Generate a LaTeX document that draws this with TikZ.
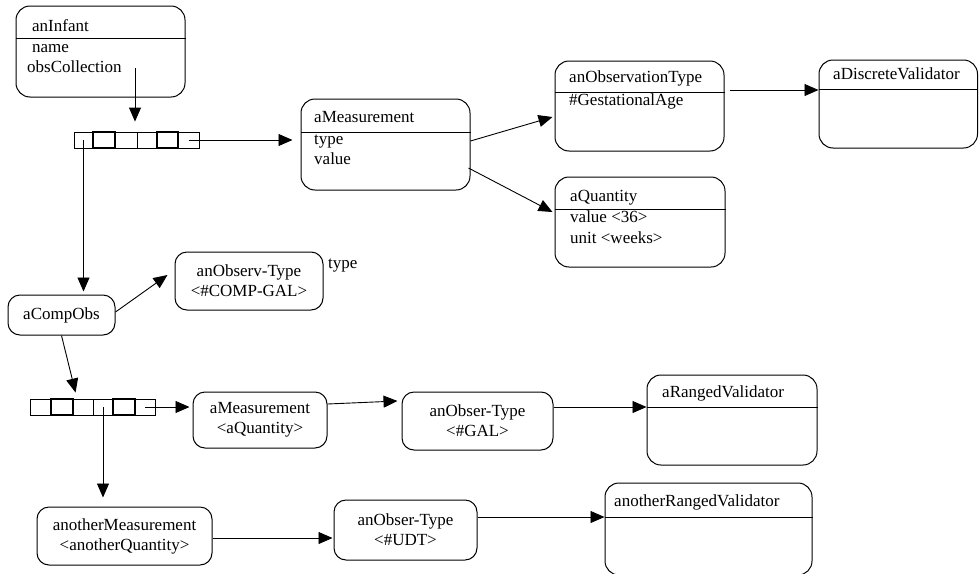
\documentclass[tikz,border=0pt]{standalone}
\usepackage{fontspec}
\setmainfont{Liberation Serif}
\usetikzlibrary{arrows.meta,calc}

\tikzset{
  obj/.style={draw, line width=1pt, rounded corners=14pt, inner sep=0pt},
  smallobj/.style={obj, rounded corners=12pt, align=center, font=\fontsize{17}{20}\selectfont},
  hdr/.style={line width=1pt},
  lbl/.style={inner sep=0pt, anchor=west, text height=12pt, text depth=4pt, font=\fontsize{17}{20}\selectfont},
  cell/.style={draw, line width=0.9pt, inner sep=0pt, minimum height=16pt},
  boldcell/.style={cell, line width=1.4pt},
  conn/.style={draw, line width=0.9pt, -{Triangle[length=14pt,width=12pt]}}
}

\begin{document}
\begin{tikzpicture}[x=1pt,y=-1pt]
\useasboundingbox (0,0) rectangle (979,573);

% ---------- objects with compartments ----------
\node[obj, minimum width=169pt, minimum height=91pt] (infant) at (100.5,51.5) {};
\draw[hdr] (infant.west |- 0,38) -- (infant.east |- 0,38);
\node[lbl] (infantT) at (32,27) {anInfant};
\node[lbl] (infantA) at (32,48) {name};
\node[lbl] (infantB) at (27,68) {obsCollection};

\node[obj, minimum width=169pt, minimum height=91pt] (meas) at (385.5,144.5) {};
\draw[hdr] (meas.west |- 0,132) -- (meas.east |- 0,132);
\node[lbl] (measT) at (314,118) {aMeasurement};
\node[lbl] (measA) at (314,140) {type};
\node[lbl] (measB) at (314,160) {value};

\node[obj, minimum width=169pt, minimum height=90pt] (otype) at (639.5,106) {};
\draw[hdr] (otype.west |- 0,92) -- (otype.east |- 0,92);
\node[lbl] (otypeT) at (569,78) {anObservationType};
\node[lbl] (otypeA) at (569,101) {\#GestationalAge};

\node[obj, minimum width=158.5pt, minimum height=88pt] (discrete) at (898.25,104) {};
\draw[hdr] (discrete.west |- 0,89) -- (discrete.east |- 0,89);
\node[lbl] (discreteT) at (833,75) {aDiscreteValidator};

\node[obj, minimum width=170pt, minimum height=90pt] (qty) at (640,222) {};
\draw[hdr] (qty.west |- 0,209) -- (qty.east |- 0,209);
\node[lbl] (qtyT) at (570,197) {aQuantity};
\node[lbl] (qtyA) at (570,218) {value <36>};
\node[lbl] (qtyB) at (570,239) {unit <weeks>};

\node[obj, minimum width=170pt, minimum height=90pt] (ranged) at (732,420) {};
\draw[hdr] (ranged.west |- 0,407) -- (ranged.east |- 0,407);
\node[lbl] (rangedT) at (662,393) {aRangedValidator};

\node[obj, minimum width=207pt, minimum height=92pt] (oranged) at (708.5,529) {};
\draw[hdr] (oranged.west |- 0,517) -- (oranged.east |- 0,517);
\node[lbl] (orangedT) at (614,502) {anotherRangedValidator};

% ---------- simple objects ----------
\node[smallobj, minimum width=107pt, minimum height=40pt] (comp) at (61.5,315) {aCompObs};
\node[smallobj, minimum width=148pt, minimum height=58pt] (observ) at (249,281) {anObserv-Type\\<\#COMP-GAL>};
\node[lbl] (typelbl) at (328,264) {type};
\node[smallobj, minimum width=134pt, minimum height=56pt] (meas2) at (260,420) {aMeasurement\\<aQuantity>};
\node[smallobj, minimum width=151pt, minimum height=58pt] (gal) at (477.5,421) {anObser-Type\\<\#GAL>};
\node[smallobj, minimum width=175pt, minimum height=58pt] (ameas) at (124.5,536) {anotherMeasurement\\<anotherQuantity>};
\node[smallobj, minimum width=143pt, minimum height=60pt] (udt) at (405.5,530) {anObser-Type\\<\#UDT>};

% ---------- collections ----------
\node[cell, minimum width=19pt] (c1a) at (83.5,140) {};
\node[cell, minimum width=22pt] (c1c) at (126,140) {};
\node[cell, minimum width=20pt] (c1d) at (147,140) {};
\node[cell, minimum width=21pt] (c1f) at (188.5,140) {};
\node[boldcell, minimum width=22pt] (c1b) at (104,140) {};
\node[boldcell, minimum width=21pt] (c1e) at (167.5,140) {};

\node[cell, minimum width=21pt] (c2a) at (40.5,407) {};
\node[cell, minimum width=20pt] (c2c) at (83,407) {};
\node[cell, minimum width=20pt] (c2d) at (103,407) {};
\node[cell, minimum width=20pt] (c2f) at (145,407) {};
\node[boldcell, minimum width=22pt] (c2b) at (62,407) {};
\node[boldcell, minimum width=22pt] (c2e) at (124,407) {};

% ---------- connectors ----------
\coordinate (oc) at (135,68);
\draw[conn, shorten >=10pt] (oc) -- (oc |- c1c.north);
\draw[conn, shorten >=8pt] (c1f.center) -- (c1f.center -| meas.west);
\draw[conn, shorten >=3pt] (c1a.center) -- (c1a.center |- comp.north);

\draw[conn] ($(meas.east)+(0,-3.5)$) -- ($(otype.west)+(-2,11)$);
\draw[conn] ($(meas.east)+(-2,23.5)$) -- ($(qty.west)+(-2,-10)$);
\coordinate (p6) at ($(otype.east)+(5,-16)$);
\draw[conn] (p6) -- (p6 -| discrete.west);

\draw[conn] ($(comp.east)+(0,-3)$) -- ($(observ.west)+(-7,-6)$);
\draw[conn] (comp.south) -- ($(c2c.north west)+(3,-6)$);
\draw[conn, shorten >=9pt] (c2d.center) -- (c2d.center |- ameas.north);
\draw[conn, shorten >=3pt] (c2f.center) -- (c2f.center -| meas2.west);
\draw[conn] ($(meas2.east)+(0,-16)$) -- ($(gal.west)+(-4,-20)$);
\coordinate (p12) at ($(gal.east)+(0,-14)$);
\draw[conn] (p12) -- (p12 -| ranged.west);
\coordinate (p13) at ($(ameas.east)+(0,2)$);
\draw[conn, shorten >=1pt] (p13) -- (p13 -| udt.west);
\coordinate (p14) at ($(udt.east)+(0,-13)$);
\draw[conn] (p14) -- (p14 -| oranged.west);
\end{tikzpicture}
\end{document}
